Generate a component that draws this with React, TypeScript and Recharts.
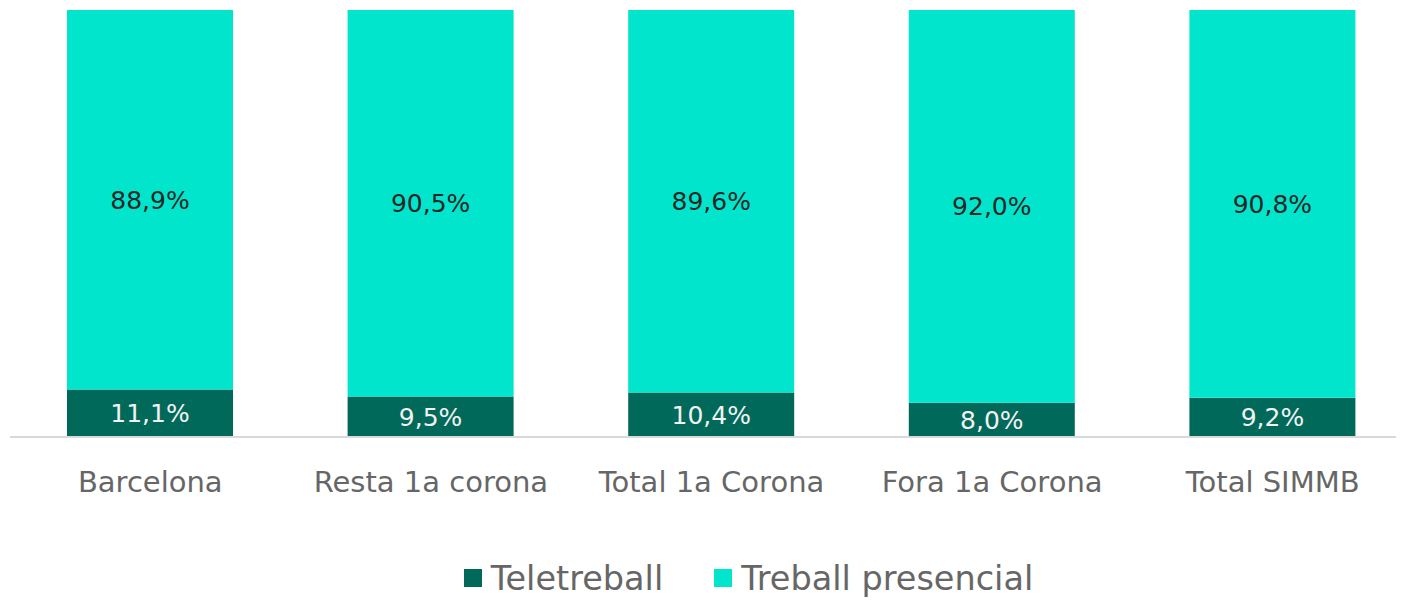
import React from 'react';
import { BarChart, Bar, XAxis, YAxis, Legend, LabelList } from 'recharts';

const categories = ['Barcelona', 'Resta 1a corona', 'Total 1a Corona', 'Fora 1a Corona', 'Total SIMMB'];
const teletreball = [11.1, 9.5, 10.4, 8.0, 9.2];
const presencial = [88.9, 90.5, 89.6, 92.0, 90.8];
const seriesNames = ['Teletreball', 'Treball presencial'];
const seriesColors = ['#00695a', '#00e5cc'];

const data = categories.map((c, i) => ({ name: c, tele: teletreball[i], pres: presencial[i] }));

const FONT = '"DejaVu Sans", sans-serif';
const fmt = (v: any) => Number(v).toFixed(1).replace('.', ',') + '%';

const Tick = (props: any) => {
  const { x, y, payload } = props;
  return (
    <text x={x} y={y + 55} textAnchor="middle" fill="#666666" fontSize={29} fontFamily={FONT}>
      {payload.value}
    </text>
  );
};

const LegendContent = () => (
  <div style={{ display: 'flex', justifyContent: 'center', alignItems: 'center', fontFamily: FONT, fontSize: 33.5, color: '#666666', height: 59, paddingTop: 15, paddingLeft: 74, boxSizing: 'border-box' }}>
    {seriesNames.map((n, i) => (
      <div key={n} style={{ display: 'flex', alignItems: 'center', marginRight: i === 0 ? 51 : 0 }}>
        <span style={{ width: 18, height: 18, background: seriesColors[i], display: 'inline-block', marginRight: 9 }} />
        <span>{n}</span>
      </div>
    ))}
  </div>
);

export default function App() {
  return (
    <div style={{ width: 1396, height: 592, overflow: 'hidden' }}>
      <BarChart width={1405} height={592} data={data} margin={{ top: 2, right: 0, left: 2, bottom: 0 }} barSize={166}>
        <XAxis dataKey="name" axisLine={{ stroke: '#d9d9d9', strokeWidth: 2 }} tickLine={false} tickSize={0} tickMargin={0} tick={<Tick />} height={104} interval={0} />
        <YAxis hide domain={[0, 100]} />
        <Legend verticalAlign="bottom" height={59} content={<LegendContent />} />
        <Bar dataKey="tele" name={seriesNames[0]} stackId="a" fill={seriesColors[0]} isAnimationActive={false}>
          <LabelList dataKey="tele" position="center" formatter={fmt} fill="#f2f2f2" fontSize={25} fontFamily={FONT} />
        </Bar>
        <Bar dataKey="pres" name={seriesNames[1]} stackId="a" fill={seriesColors[1]} isAnimationActive={false}>
          <LabelList dataKey="pres" position="center" formatter={fmt} fill="#262626" fontSize={25} fontFamily={FONT} />
        </Bar>
      </BarChart>
    </div>
  );
}
